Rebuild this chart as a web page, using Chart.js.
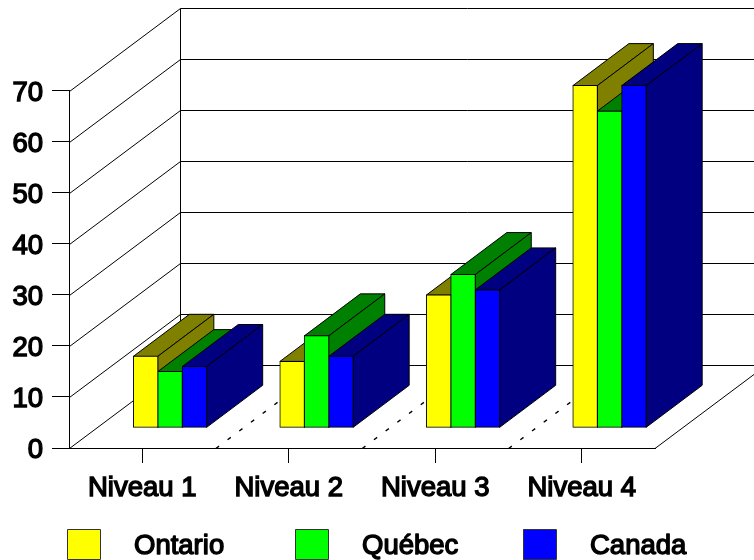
<!DOCTYPE html>
<html>
<head>
<meta charset="utf-8">
<title>Niveaux</title>
<script src="https://cdn.jsdelivr.net/npm/chart.js@4"></script>
<style>
    html, body { margin: 0; padding: 0; background: #fff; overflow: hidden; }
    canvas { display: block; }
</style>
</head>
<body>
<canvas id="niveauxChart" width="754" height="560"></canvas>
<script>
// Valeurs par niveau
var niveaux = ['Niveau 1', 'Niveau 2', 'Niveau 3', 'Niveau 4'];
var ontario = [14, 13, 26, 67];
var quebec = [11, 18, 30, 62];
var canada = [12, 14, 27, 67];

var faces = ['#ffff00', '#00ff00', '#0000ff'];
var dark = ['#808000', '#008000', '#000080'];

// Profondeur de la boite 3D et position des barres dans cette profondeur
var BOX_DX = 111, BOX_DY = -83;
var BAR_DX = 27.8, BAR_DY = -20.2;
var DEPTH_DX = 56, DEPTH_DY = -42;

var FONT = '"Liberation Sans", Arial, sans-serif';

function seg(ctx, x1, y1, x2, y2) {
    ctx.beginPath();
    ctx.moveTo(x1, y1);
    ctx.lineTo(x2, y2);
    ctx.stroke();
}

function poly(ctx, pts, fill) {
    ctx.beginPath();
    ctx.moveTo(pts[0][0], pts[0][1]);
    for (var i = 1; i < pts.length; i++) ctx.lineTo(pts[i][0], pts[i][1]);
    ctx.closePath();
    ctx.fillStyle = fill;
    ctx.fill();
    ctx.stroke();
}

var box3d = {
    id: 'box3d',
    beforeDatasetsDraw: function (chart) {
        var ctx = chart.ctx, x = chart.scales.x, y = chart.scales.y;
        var left = x.left + 0.5, right = x.right, y0 = Math.round(y.getPixelForValue(0)) + 0.5;
        ctx.save();
        ctx.strokeStyle = '#000';
        ctx.lineWidth = 1;

        // mur du fond et mur de gauche
        y.ticks.forEach(function (t) {
            var py = Math.round(y.getPixelForValue(t.value)) + 0.5;
            seg(ctx, left, py, left + BOX_DX, py + BOX_DY);
            seg(ctx, left + BOX_DX, py + BOX_DY, chart.width, py + BOX_DY);
        });
        var top = Math.round(y.getPixelForValue(70)) + 0.5;
        seg(ctx, left + BOX_DX, top + BOX_DY, left + BOX_DX, y0 + BOX_DY);
        seg(ctx, right, y0, right + BOX_DX, y0 + BOX_DY);

        // pointilles du plancher entre les niveaux
        ctx.lineWidth = 1.4;
        ctx.setLineDash([4, 10.6]);
        for (var i = 1; i < niveaux.length; i++) {
            var fx = left + i * (right - left) / niveaux.length;
            seg(ctx, fx, y0, fx + BOX_DX, y0 + BOX_DY);
        }
        ctx.setLineDash([]);
        ctx.lineWidth = 1;

        // dessus et cote de chaque barre, de gauche a droite
        chart.data.datasets.forEach(function (ds, d) {
            chart.getDatasetMeta(d).data.forEach(function (bar) {
                var l = bar.x - bar.width / 2 + BAR_DX, r = bar.x + bar.width / 2 + BAR_DX;
                var t = bar.y + BAR_DY, b = bar.base + BAR_DY;
                poly(ctx, [[l, t], [r, t], [r + DEPTH_DX, t + DEPTH_DY], [l + DEPTH_DX, t + DEPTH_DY]], dark[d]);
                poly(ctx, [[r, t], [r, b], [r + DEPTH_DX, b + DEPTH_DY], [r + DEPTH_DX, t + DEPTH_DY]], dark[d]);
            });
        });
        ctx.restore();
    },
    // les faces avant sont dessinees par Chart.js, decalees dans la boite
    beforeDatasetDraw: function (chart) {
        chart.ctx.save();
        chart.ctx.translate(BAR_DX, BAR_DY);
    },
    afterDatasetDraw: function (chart) {
        chart.ctx.restore();
    },
    // legende en bas, coupee par le bord du canvas
    afterDraw: function (chart) {
        var ctx = chart.ctx;
        ctx.save();
        ctx.font = '27.5px ' + FONT;
        ctx.textBaseline = 'middle';
        ctx.lineJoin = 'round';
        chart.data.datasets.forEach(function (ds, d) {
            var bx = 67 + d * 228;
            ctx.fillStyle = faces[d];
            ctx.strokeStyle = '#333';
            ctx.lineWidth = 1;
            ctx.fillRect(bx, 529.5, 33, 30);
            ctx.strokeRect(bx + 0.5, 529.5, 33, 30);
            ctx.fillStyle = '#000';
            ctx.strokeStyle = '#000';
            ctx.lineWidth = 1.4;
            ctx.fillText(ds.label, bx + 67, 546);
            ctx.strokeText(ds.label, bx + 67, 546);
        });
        ctx.restore();
    }
};

var ctx = document.getElementById('niveauxChart').getContext('2d');

var chart = new Chart(ctx, {
    type: 'bar',
    data: {
        labels: niveaux,
        datasets: [
            { label: 'Ontario', data: ontario, backgroundColor: faces[0] },
            { label: 'Québec', data: quebec, backgroundColor: faces[1] },
            { label: 'Canada', data: canada, backgroundColor: faces[2] }
        ]
    },
    options: {
        responsive: false,
        animation: false,
        clip: false,
        layout: { padding: { top: 90.5, right: 99 } },
        datasets: {
            bar: {
                barPercentage: 1,
                categoryPercentage: 0.5,
                borderColor: '#000',
                borderWidth: 1,
                borderSkipped: false,
                inflateAmount: 0.5
            }
        },
        plugins: {
            legend: { display: false },
            tooltip: { enabled: false }
        },
        scales: {
            x: {
                afterFit: function (scale) { scale.height = 112; },
                grid: {
                    offset: false,
                    drawOnChartArea: false,
                    color: '#000',
                    tickLength: 15
                },
                border: { color: '#000' },
                ticks: {
                    color: '#000',
                    maxRotation: 0,
                    padding: 9,
                    textStrokeColor: '#000',
                    textStrokeWidth: 1.4,
                    font: { family: FONT, size: 27.5 }
                }
            },
            y: {
                min: 0,
                max: 70,
                afterFit: function (scale) { scale.width = 69; },
                grid: {
                    drawOnChartArea: false,
                    color: '#000',
                    tickLength: 17
                },
                border: { color: '#000' },
                ticks: {
                    stepSize: 10,
                    color: '#000',
                    padding: 9,
                    labelOffset: 2.5,
                    textStrokeColor: '#000',
                    textStrokeWidth: 1.4,
                    font: { family: FONT, size: 27.5 }
                }
            }
        }
    },
    plugins: [box3d]
});
</script>
</body>
</html>
